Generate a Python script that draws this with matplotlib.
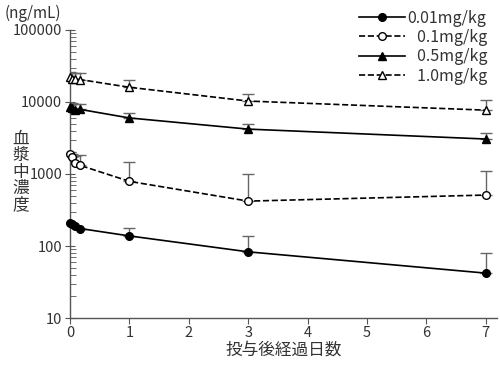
import matplotlib
matplotlib.use("Agg")
import matplotlib.pyplot as plt
import numpy as np

plt.rcParams['font.family'] = ['Noto Sans CJK JP', 'DejaVu Sans']

# days after dosing
days = [0.0035, 0.042, 0.083, 0.167, 1, 3, 7]

labels = ["0.01mg/kg", "0.1mg/kg", "0.5mg/kg", "1.0mg/kg"]

# mean concentrations (ng/mL)
c001 = [210, 200, 190, 175, 138, 83, 42]
c01 = [1900, 1730, 1410, 1320, 790, 420, 510]
c05 = [8600, 8200, 7800, 7900, 6000, 4200, 3060]
c10 = [22000, 21000, 21000, 20500, 16000, 10300, 7700]

# upper end of error bars
u001 = [210, 200, 190, 175, 178, 138, 80]
u01 = [2000, 1900, 1800, 1850, 1480, 1000, 1100]
u05 = [9700, 9600, 9500, 9400, 7000, 4950, 3700]
u10 = [26000, 25500, 25000, 25000, 20200, 12900, 10700]

series = [c001, c01, c05, c10]
uppers = [u001, u01, u05, u10]
styles = [('-', 'o', 'black'), ('--', 'o', 'white'), ('-', '^', 'black'), ('--', '^', 'white')]

fig = plt.figure(figsize=(5, 3.7), dpi=100)
ax = fig.add_axes([0.14, 0.1405, 0.854, 0.7785])

handles = []
for vals, up, (ls, mk, fc) in zip(series, uppers, styles):
    vals = np.array(vals, dtype=float)
    up = np.array(up, dtype=float)
    err = [np.zeros_like(vals), up - vals]
    ax.errorbar(days, vals, yerr=err, fmt='none', ecolor='#666666',
                elinewidth=1, capsize=4, capthick=1, zorder=2)
    h, = ax.plot(days, vals, linestyle=ls, marker=mk, color='black',
                 markerfacecolor=fc, markeredgecolor='black', markersize=5.5,
                 linewidth=1.2, zorder=3, clip_on=False)
    handles.append(h)

ax.set_yscale('log')
ax.set_ylim(10, 100000)
ax.set_xlim(0, 7.19)
ax.set_xticks(range(0, 8))
ax.set_yticks([10, 100, 1000, 10000, 100000])
ax.set_yticklabels(['10', '100', '1000', '10000', '100000'])

for s in ['top', 'right']:
    ax.spines[s].set_visible(False)
for s in ['left', 'bottom']:
    ax.spines[s].set_color('#555555')
    ax.spines[s].set_linewidth(1)

ax.tick_params(axis='y', which='major', direction='inout', length=7, color='#555555',
               labelsize=10.5, labelcolor='#333333', pad=2)
ax.tick_params(axis='y', which='minor', direction='in', length=4, color='#555555')
ax.tick_params(axis='x', which='major', direction='out', length=4, color='#555555',
               labelsize=10.5, labelcolor='#333333', pad=2)

ax.set_xlabel('投与後経過日数', fontsize=12, color='#333333', labelpad=1)
fig.text(0.042, 0.535, '\n'.join('血漿中濃度'), fontsize=12, color='#333333',
         ha='center', va='center', linespacing=0.95)
fig.text(0.01, 0.965, '(ng/mL)', fontsize=11, color='#333333', ha='left', va='center')

fs = '\u2007'
leg_labels = ["0.01mg/kg", fs + "0.1mg/kg", fs + "0.5mg/kg", fs + "1.0mg/kg"]
leg = fig.legend(handles, leg_labels, loc='upper right', bbox_to_anchor=(0.995, 1.0),
                 frameon=False, fontsize=11.5, handlelength=2.9, handletextpad=0.15,
                 labelspacing=0.15, borderaxespad=0.2)
for t in leg.get_texts():
    t.set_color('#333333')

fig.savefig('out.png', dpi=100)
